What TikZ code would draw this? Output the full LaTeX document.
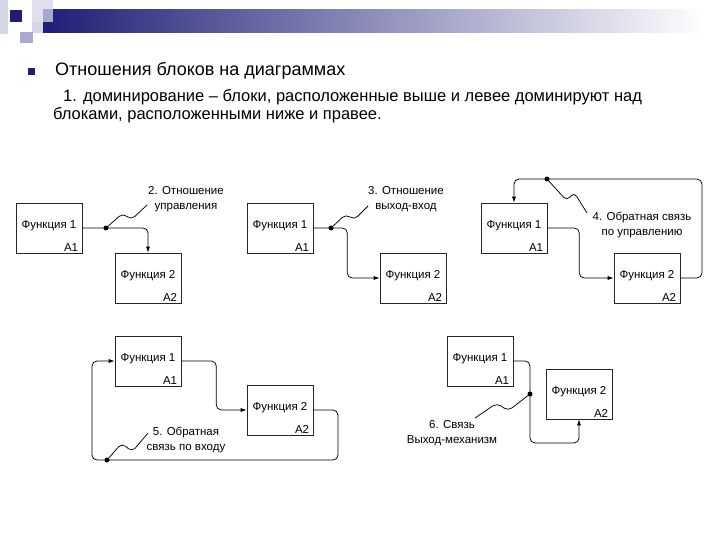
\documentclass[tikz,border=0pt]{standalone}
\usepackage{fontspec}
\setmainfont{Liberation Sans}
\usetikzlibrary{arrows.meta}

\definecolor{navybar}{RGB}{30,30,118}
\definecolor{lavpale}{RGB}{214,214,232}
\definecolor{lavmid}{RGB}{168,168,210}

\tikzset{
  blok/.style={draw=black!85, line width=0.6pt, minimum width=66pt, minimum height=50pt,
               inner sep=0pt, text height=8pt, text depth=7pt, font=\fontsize{11.5}{13}\selectfont},
  kod/.style={anchor=south east, inner xsep=4pt, inner ysep=2pt, font=\fontsize{11.5}{13}\selectfont},
  svyaz/.style={line width=0.75pt, rounded corners=5pt},
  strelka/.style={svyaz, -{Latex[length=6pt,width=4pt]}},
  tochka/.style={circle, fill, inner sep=0pt, minimum size=5pt},
  podpis/.style={align=center, font=\fontsize{11.5}{15}\selectfont},
  stroka/.style={anchor=base west, inner sep=0pt}
}

\begin{document}
\begin{tikzpicture}[x=1pt, y=-1pt]
      \useasboundingbox[fill=white] (0,0) rectangle (720,540);
      %
      \fill[lavpale] (0,0) rectangle (8,34);          % header squares
      \shade[left color=navybar, right color=white] (43,10) rectangle (705,33);
      \fill[lavpale] (32,22) rectangle (43,33);
      \fill[lavpale, opacity=0.75] (32,0) rectangle (53,22);
      \fill[navybar] (10,10) rectangle (22,22);
      \fill[lavmid] (20,32) rectangle (33,43);
      %
      \fill[navybar] (28,68) rectangle (35,75);       % bullet
      \node[stroka, font=\fontsize{18}{20}\selectfont] (zag) at (55,76) {Отношения блоков на диаграммах};
      \node[stroka, font=\fontsize{16.5}{18}\selectfont] (str1) at (63,102) {1. доминирование – блоки, расположенные выше и левее доминируют над};
      \node[stroka, font=\fontsize{16.5}{18}\selectfont] (str2) at (53,120) {блоками, расположенными ниже и правее.};
      %
      % 2. control
      \node[blok] (p2a) at (49,228) {Функция 1};
      \node[kod] at (p2a.south east) {A1};
      \node[blok] (p2b) at (148,278) {Функция 2};
      \node[kod] at (p2b.south east) {A2};
      \draw[strelka] (p2a.east) -| (p2b.north);
      \node[tochka] (t2) at (106,228) {};
      \draw[svyaz] (t2.center) -- ++(17,-15) -- ++(8,7) -- ++(16,-15);
      \node[podpis] (l2) at (186,199) {2. Отношение\\управления};
      %
      % 3. output-input
      \node[blok] (p3a) at (280,228) {Функция 1};
      \node[kod] at (p3a.south east) {A1};
      \node[blok] (p3b) at (413,278) {Функция 2};
      \node[kod] at (p3b.south east) {A2};
      \draw[strelka] (p3a.east) -- ++(34,0) |- (p3b.west);
      \node[tochka] (t3) at (331,228) {};
      \draw[svyaz] (t3.center) -- ++(15,-14) -- ++(8,6) -- ++(14,-14);
      \node[podpis] (l3) at (406,199) {3. Отношение\\выход-вход};
      %
      % 4. control feedback
      \node[blok] (p4a) at (514,228) {Функция 1};
      \node[kod] at (p4a.south east) {A1};
      \node[blok] (p4b) at (647,278) {Функция 2};
      \node[kod] at (p4b.south east) {A2};
      \draw[strelka] (p4a.east) -- ++(32,0) |- (p4b.west);
      \coordinate (k4) at (702,179);
      \draw[strelka] (p4b.east) -| (k4) -| (p4a.north);
      \node[tochka] (t4) at (547,179) {};
      \draw[svyaz] (t4.center) -- ++(20,22) -- ++(7,-9) -- ++(13,21);
      \node[podpis] (l4) at (642,225) {4. Обратная связь\\по управлению};
      %
      % 5. input feedback
      \node[blok] (p5a) at (148,361) {Функция 1};
      \node[kod] at (p5a.south east) {A1};
      \node[blok] (p5b) at (280,410) {Функция 2};
      \node[kod] at (p5b.south east) {A2};
      \draw[strelka] (p5a.east) -- ++(35,0) |- (p5b.west);
      \coordinate (k5a) at (338,460);
      \coordinate (k5b) at (92,460);
      \draw[strelka] (p5b.east) -| (k5a) -- (k5b) |- (p5a.west);
      \node[tochka] (t5) at (107,460) {};
      \draw[svyaz] (t5.center) -- ++(15,-17) -- ++(10,9) -- ++(16,-19);
      \node[podpis] (l5) at (186,440) {5. Обратная\\связь по входу};
      %
      % 6. output-mechanism
      \node[blok] (p6a) at (480,361) {Функция 1};
      \node[kod] at (p6a.south east) {A1};
      \node[blok] (p6b) at (579,394) {Функция 2};
      \node[kod] at (p6b.south east) {A2};
      \coordinate (k6) at (530,443);
      \draw[strelka] (p6a.east) -| (k6) -| (p6b.south);
      \node[tochka] (t6) at (530,394) {};
      \draw[svyaz] (t6.center) -- ++(-22,17) -- ++(-11,-8) -- ++(-22,15);
      \node[podpis] (l6) at (452,433) {6. Связь\\Выход-механизм};
      %
    \end{tikzpicture}
\end{document}
